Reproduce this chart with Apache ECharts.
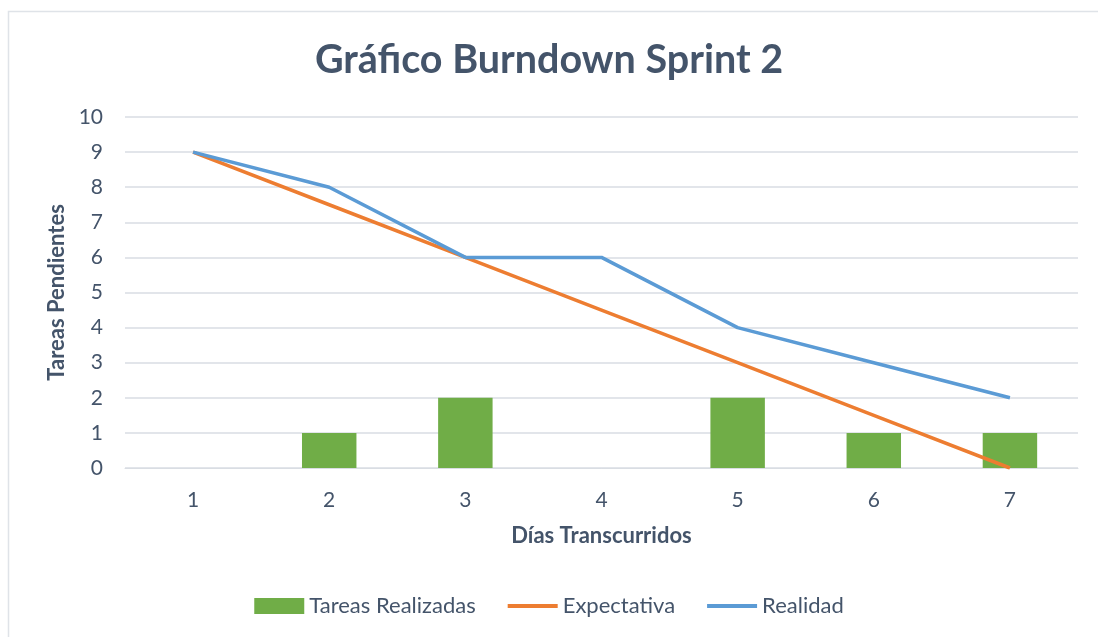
<!DOCTYPE html>
<html><head><meta charset="utf-8">
<script src="https://cdn.jsdelivr.net/npm/echarts@6/dist/echarts.min.js"></script>
<style>html,body{margin:0;padding:0;background:#fff}#c{width:1098px;height:637px}</style>
</head><body><div id="c"></div>
<script>
const categories = ['1','2','3','4','5','6','7'];
const tareasRealizadas = [0,1,2,0,2,1,1];
const expectativa = [9,7.5,6,4.5,3,1.5,0];
const realidad = [9,8,6,6,4,3,2];
const textColor = '#44546A';
const font = 'Lato, "Open Sans", sans-serif';
const chart = echarts.init(document.getElementById('c'));
chart.setOption({
  animation:false,
  textStyle:{fontFamily:font,color:textColor},
  graphic:[{type:'rect',shape:{x:8.5,y:11.5,width:1200,height:700},style:{fill:'none',stroke:'#dfe3e8',lineWidth:1.5},silent:true}],
  title:{text:'Gráfico Burndown Sprint 2',left:'center',top:35,textStyle:{fontFamily:font,fontSize:39.5,fontWeight:'bold',color:textColor}},
  grid:{left:125,right:20,top:117,bottom:169},
  legend:{bottom:15,left:'center',itemGap:30,itemWidth:50,itemHeight:16,textStyle:{fontFamily:font,fontSize:22,color:textColor},
    data:[{name:'Tareas Realizadas',icon:'rect'},
          {name:'Expectativa',itemStyle:{opacity:0},lineStyle:{width:4}},
          {name:'Realidad',itemStyle:{opacity:0},lineStyle:{width:4}}]},
  xAxis:{type:'category',data:categories,name:'Días Transcurridos',nameLocation:'middle',nameGap:57,
    nameTextStyle:{fontFamily:font,fontSize:22,fontWeight:'bold',color:textColor},
    axisLine:{show:true,lineStyle:{color:'#d9dde3'}},axisTick:{show:false},
    axisLabel:{fontFamily:font,fontSize:21,color:textColor,margin:22}},
  yAxis:{type:'value',min:0,max:10,interval:1,name:'Tareas Pendientes',nameLocation:'middle',nameGap:54,
    nameTextStyle:{fontFamily:font,fontSize:22,fontWeight:'bold',color:textColor},
    axisLine:{show:false},axisTick:{show:false},
    axisLabel:{fontFamily:font,fontSize:21,color:textColor,margin:22},
    splitLine:{lineStyle:{color:'#d9dde3',width:1.5}}},
  series:[
    {name:'Tareas Realizadas',type:'bar',data:tareasRealizadas,barWidth:'40%',itemStyle:{color:'#70AD47'}},
    {name:'Expectativa',type:'line',data:expectativa,symbol:'none',lineStyle:{color:'#ED7D31',width:3.5},itemStyle:{color:'#ED7D31'}},
    {name:'Realidad',type:'line',data:realidad,symbol:'none',lineStyle:{color:'#5B9BD5',width:3.5},itemStyle:{color:'#5B9BD5'}}
  ]
});
</script></body></html>
